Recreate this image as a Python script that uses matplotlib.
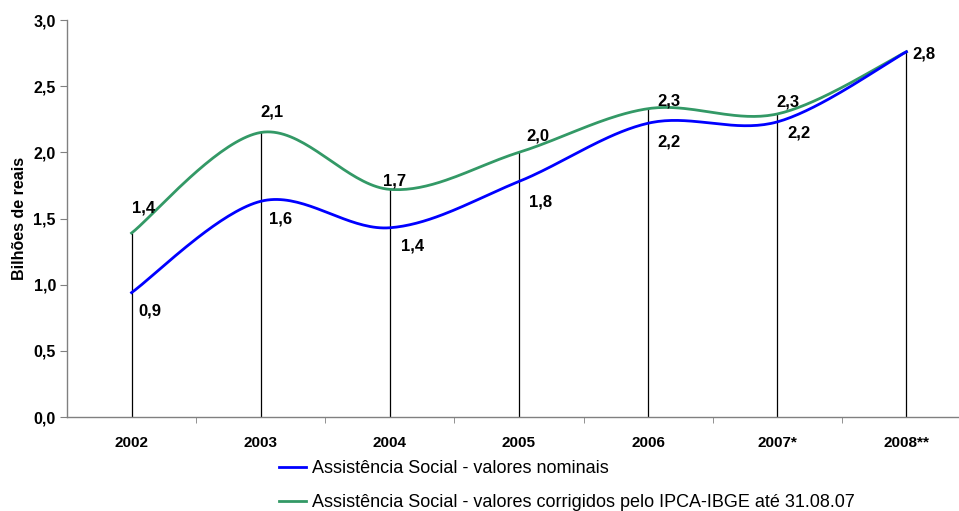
import numpy as np
import matplotlib
matplotlib.use("Agg")
import matplotlib.pyplot as plt

# data (bilhoes de reais)
anos = ["2002", "2003", "2004", "2005", "2006", "2007*", "2008**"]
nominais = [0.94, 1.63, 1.43, 1.78, 2.22, 2.23, 2.76]
corrigidos = [1.39, 2.15, 1.72, 2.00, 2.33, 2.29, 2.76]

# label offsets in pixels (dx, dy), y up
off_corr = [(12, 25), (11, 20), (5, 8), (19, 16), (21, 8), (11, 12), (18, -2)]
off_nom = [(18, -18), (20, -18), (23, -18), (22, -21), (21, -19), (22, -11), None]

plt.rcParams['font.family'] = ['Liberation Sans', 'DejaVu Sans']


def smooth(y, n=40):
    # Excel-like smoothed line (cardinal bezier, 1/6 control points)
    x = np.arange(len(y), dtype=float)
    y = np.asarray(y, dtype=float)
    px = np.concatenate([[x[0]], x, [x[-1]]])
    py = np.concatenate([[y[0]], y, [y[-1]]])
    xs, ys = [], []
    t = np.linspace(0, 1, n)
    for i in range(1, len(px) - 2):
        p0 = np.array([px[i], py[i]])
        p3 = np.array([px[i + 1], py[i + 1]])
        c1 = p0 + (np.array([px[i + 1], py[i + 1]]) - np.array([px[i - 1], py[i - 1]])) / 6
        c2 = p3 - (np.array([px[i + 2], py[i + 2]]) - np.array([px[i], py[i]])) / 6
        b = ((1 - t) ** 3)[:, None] * p0 + (3 * (1 - t) ** 2 * t)[:, None] * c1 \
            + (3 * (1 - t) * t ** 2)[:, None] * c2 + (t ** 3)[:, None] * p3
        xs.extend(b[:, 0])
        ys.extend(b[:, 1])
    return np.array(xs), np.array(ys)


def fmt(v):
    return f"{v:.1f}".replace('.', ',')


fig = plt.figure(figsize=(9.59, 5.11), dpi=100)
ax = fig.add_axes([67 / 959, 94 / 511, 904 / 959, 397 / 511])

x = np.arange(len(anos))

# drop lines
ax.vlines(x, 0, np.maximum(nominais, corrigidos), colors='black', linewidth=0.9, zorder=1)

xs, ys = smooth(nominais)
ax.plot(xs, ys, color='#0000FF', linewidth=2.0, zorder=3,
        label='Assistência Social - valores nominais')
xs, ys = smooth(corrigidos)
ax.plot(xs, ys, color='#339966', linewidth=2.0, zorder=2,
        label='Assistência Social - valores corrigidos pelo IPCA-IBGE até 31.08.07')

for i, v in enumerate(corrigidos):
    ax.annotate(fmt(v), (x[i], v), xytext=off_corr[i], textcoords='offset pixels',
                ha='center', va='center', fontsize=12, fontweight='bold')
for i, v in enumerate(nominais):
    if off_nom[i] is None:
        continue
    ax.annotate(fmt(v), (x[i], v), xytext=off_nom[i], textcoords='offset pixels',
                ha='center', va='center', fontsize=12, fontweight='bold')

ax.set_xlim(-0.5, len(anos) - 0.5)
ax.set_ylim(0, 3.0)
ax.set_yticks(np.arange(0, 3.01, 0.5))
ax.set_yticklabels([fmt(v) for v in np.arange(0, 3.01, 0.5)], fontsize=11.5, fontweight='bold')
ax.set_xticks(x)
ax.set_xticklabels(anos, fontsize=11, fontweight='bold')
ax.set_xticks(np.arange(0.5, len(anos) - 0.5, 1), minor=True)
ax.tick_params(axis='x', which='major', length=0, pad=14)
ax.tick_params(axis='x', which='minor', length=4, color='#808080', direction='out')
ax.tick_params(axis='y', length=5, color='#808080', pad=3)

for s in ['top', 'right']:
    ax.spines[s].set_visible(False)
for s in ['left', 'bottom']:
    ax.spines[s].set_color('#808080')
    ax.spines[s].set_linewidth(1.0)

ax.set_ylabel('Bilhões de reais', fontsize=11.5, fontweight='bold')
ax.yaxis.set_label_coords(-40 / 904, 0.5)

fig.legend(loc='upper left', bbox_to_anchor=(279 / 959, 1 - 460 / 511), frameon=False,
           fontsize=13, handlelength=1.5, handletextpad=0.35, labelspacing=0.95,
           borderpad=0, borderaxespad=0)

fig.savefig('out.png', dpi=100)
